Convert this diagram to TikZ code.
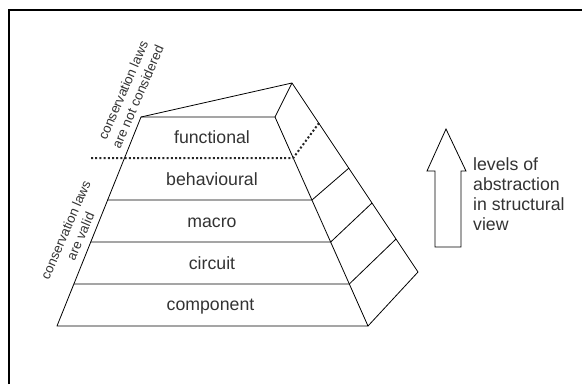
\documentclass[tikz,border=0pt]{standalone}
\usepackage{fontspec}
\setmainfont{Liberation Sans}
\begin{document}
\begin{tikzpicture}[x=1pt,y=-1pt,
  edge/.style={line width=0.8pt,black},
  lvl/.style={text=black!80,font=\fontsize{17.7}{20.3}\selectfont,inner sep=0pt},
  side/.style={text=black!80,font=\fontsize{13.3}{16}\selectfont,align=center,inner sep=0pt,rotate=66.5},
  dots/.style={line width=2pt,dash pattern=on 2pt off 2.2pt,black!85}]
\useasboundingbox (0,0) rectangle (582,384);
% frame (top and left only)
\draw[line width=2pt] (9,384) -- (9,10) -- (582,10);
% pyramid corners
\coordinate (TL) at (141,117);
\coordinate (TR) at (275,117);
\coordinate (BK) at (292,83);
\coordinate (BR) at (418,272);
\coordinate (FR) at (368,326);
\coordinate (FL) at (57,326);
% layer boundary points
\coordinate (L1) at (91,158);  \coordinate (R1) at (293.2,158); \coordinate (K1) at (319,123);
\coordinate (L2) at (107.2,200); \coordinate (R2) at (312,200); \coordinate (K2) at (349,168);
\coordinate (L3) at (90.3,242); \coordinate (R3) at (330.7,242); \coordinate (K3) at (372,203);
\coordinate (L4) at (73.6,284); \coordinate (R4) at (349.3,284); \coordinate (K4) at (396,239);
% outline
\draw[edge,line join=round] (FL) -- (TL) -- (TR) -- (FR) -- cycle;
\draw[edge,line join=round] (TL) -- (BK) -- (BR) -- (FR);
\draw[edge] (TR) -- (BK);
% layer lines
\draw[edge] (L2) -- (R2) -- (K2);
\draw[edge] (L3) -- (R3) -- (K3);
\draw[edge] (L4) -- (R4) -- (K4);
% dotted boundary
\draw[dots] (L1) -- (R1) -- (K1);
% layer labels
\node[lvl,anchor=base] (functional) at (212,143.5) {functional};
\node[lvl,anchor=base] (behavioural) at (212,185.5) {behavioural};
\node[lvl,anchor=base] (macro) at (212,227.5) {macro};
\node[lvl,anchor=base] (circuit) at (212,269.5) {circuit};
\node[lvl,anchor=base] (component) at (210.5,310.7) {component};
% side labels
\node[side] (notconsidered) at (130.5,93.5) {conservation laws\\are not considered};
\node[side] (valid) at (73,233) {conservation laws\\are valid};
% block arrow
\draw[edge,line join=miter] (435,247) -- (461,247) -- (461,171) -- (466,171) -- (446,129) -- (427,171) -- (435,171) -- cycle;
\node[lvl,align=left,anchor=north west] (levels) at (473,157) {levels of\\abstraction\\in structural\\view};
\end{tikzpicture}
\end{document}
